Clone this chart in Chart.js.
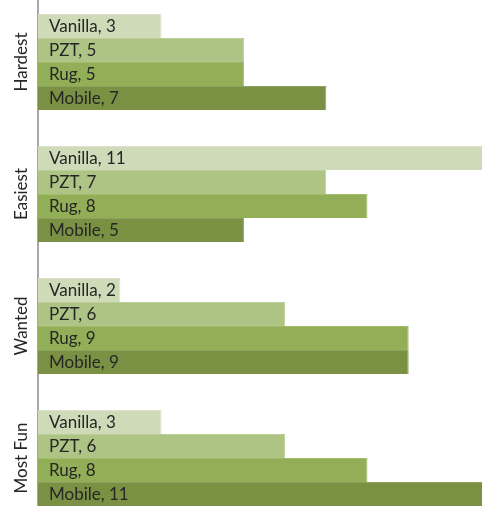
<!DOCTYPE html>
<html>
<head>
    <title>Bar Chart</title>
    <script src="https://cdn.jsdelivr.net/npm/chart.js"></script>
    <style>
        body, html {
            margin: 0;
            padding: 0;
            overflow: hidden;
            background: #fff;
        }
        .wrap {
            position: absolute;
            top: -4px;
            left: 0;
            width: 482px;
            height: 528px;
        }
    </style>
</head>
<body>

<div class="wrap">
    <canvas id="barChart" width="482" height="528"></canvas>
</div>

<script>
    const categories = ['Hardest', 'Easiest', 'Wanted', 'Most Fun'];
    const seriesNames = ['Vanilla', 'PZT', 'Rug', 'Mobile'];
    const vanilla = [3, 11, 2, 3];
    const pzt = [5, 7, 6, 6];
    const rug = [5, 8, 9, 8];
    const mobile = [7, 5, 9, 11];
    const colors = ['#cfdbb8', '#aec485', '#92ae56', '#7a9144'];
    const edgeColors = ['#dbe4ca', '#bccf99', '#a3bb70', '#8ea35f'];

    // labels inside the bars ("Vanilla, 3") and rotated category names
    const labelPlugin = {
        id: 'labels',
        afterDatasetsDraw(chart) {
            const ctx = chart.ctx;
            ctx.save();
            ctx.fillStyle = '#262626';
            ctx.textBaseline = 'middle';
            ctx.font = '17px Lato, "Open Sans", sans-serif';
            chart.data.datasets.forEach((ds, i) => {
                chart.getDatasetMeta(i).data.forEach((bar, j) => {
                    ctx.fillText(ds.label + ', ' + ds.data[j], bar.base + 11, bar.y + 1);
                });
            });

            const yScale = chart.scales.y;
            ctx.font = '17px Lato, "Open Sans", sans-serif';
            ctx.textAlign = 'center';
            categories.forEach((c, i) => {
                const y = yScale.getPixelForValue(i);
                ctx.save();
                ctx.translate(22, y);
                ctx.rotate(-Math.PI / 2);
                ctx.fillText(c, 0, 0);
                ctx.restore();
            });
            ctx.restore();
        }
    };

    const datasets = [vanilla, pzt, rug, mobile].map((values, i) => ({
        label: seriesNames[i],
        data: values,
        backgroundColor: colors[i],
        borderColor: edgeColors[i],
        borderWidth: { top: 1, right: 1, bottom: 0, left: 0 },
        borderSkipped: false,
        categoryPercentage: 96 / 132,
        barPercentage: 1.0
    }));

    new Chart(document.getElementById('barChart'), {
        type: 'bar',
        data: { labels: categories, datasets: datasets },
        options: {
            indexAxis: 'y',
            responsive: false,
            animation: false,
            layout: { padding: 0 },
            plugins: {
                legend: { display: false },
                tooltip: { enabled: false }
            },
            scales: {
                x: { display: false, min: 0, max: 10.78 },
                y: {
                    grid: { display: false },
                    border: { display: true, color: '#a6a6a6', width: 2 },
                    ticks: { display: false },
                    afterFit(scale) { scale.width = 38; }
                }
            }
        },
        plugins: [labelPlugin]
    });
</script>

</body>
</html>
